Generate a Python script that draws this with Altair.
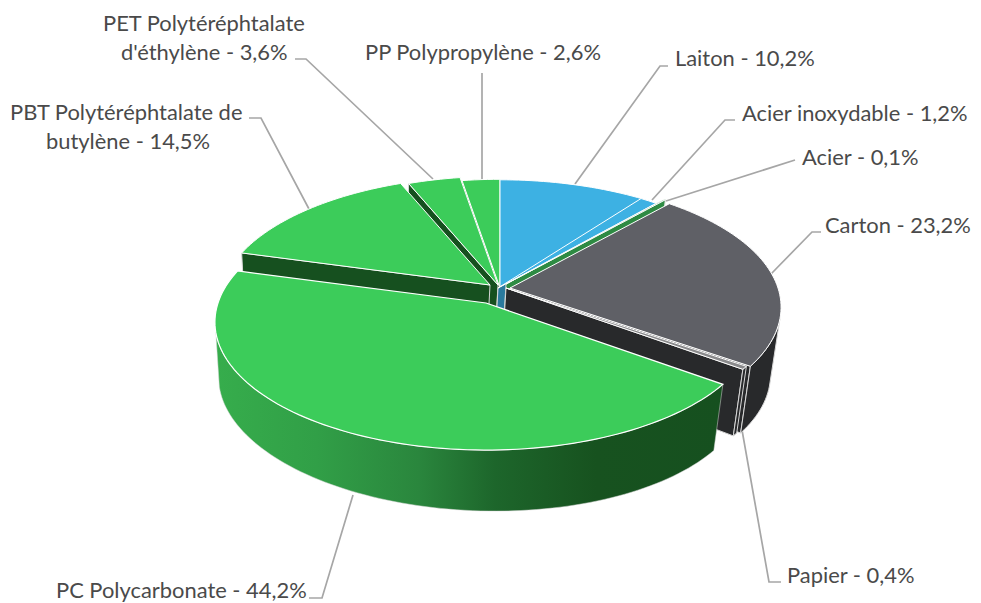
import math
import altair as alt

# values
names = ["Laiton", "Acier inoxydable", "Acier", "Carton", "Papier", "PC", "PBT", "PET", "PP"]
values = [10.2, 1.2, 0.1, 23.2, 0.4, 44.2, 14.5, 3.6, 2.6]
top_colors = ["#3db1e3", "#3db1e3", "#2e8b43", "#5f6066", "#8a8a8c", "#3ccc5a", "#3ccc5a", "#3ccc5a", "#3ccc5a"]
wall_colors = ["#2a7a9e", "#2a7a9e", "#2e8b43", "#28292b", "#28292b", "#16501f", "#16501f", "#16501f", "#16501f"]
paint_order = ["PP", "PET", "Laiton", "Acier inoxydable", "Acier", "PBT", "Carton", "Papier", "PC"]

# where each exploded slice's tip sits
apex_x = [500, 498, 506, 510, 506, 486, 490, 498, 500]
apex_y = [288.5, 288, 284, 288, 288, 303, 285, 285, 288]

label_texts = ["PET Polytéréphtalate", "d'éthylène - 3,6%", "PBT Polytéréphtalate de", "butylène - 14,5%",
               "PP Polypropylène - 2,6%", "Laiton - 10,2%", "Acier inoxydable - 1,2%", "Acier - 0,1%",
               "Carton - 23,2%", "Papier - 0,4%", "PC Polycarbonate - 44,2%"]
label_x = [103, 121, 10, 46, 365, 675, 742, 802, 825, 787, 56]
label_y = [24, 53, 113, 142, 53, 59, 114, 158, 226, 576, 591]

leaders = [
    [(668, 66), (660, 66), (575, 184)],
    [(735, 120), (725, 120), (652, 200)],
    [(795, 160), (666, 201)],
    [(821, 232), (812, 232), (771, 274)],
    [(781, 582), (769, 582), (742, 430)],
    [(309, 598), (322, 598), (353, 495)],
    [(249, 118), (261, 118), (309, 209)],
    [(295, 59), (306, 59), (433, 179)],
    [(482, 73), (482, 180)],
]

# 3D pie geometry parameters
R, A, K = 268, 125, 0.15
SHRINK, SHRINK_CX = 0.975, 360
DEPTH, DEPTH_SLOPE, DEPTH_CX = 61, 0.022, 490
SILHOUETTE = -0.22
W, H = 965, 594
M = 8


def to_chart(p):
    return [p[0] - M, p[1] - M]


def rim(apex, deg):
    t = math.radians(deg)
    x, y = math.sin(t), math.cos(t)
    d = 1 + K * y
    return (apex[0] + R * x / d, apex[1] - A * y / d)


def drop(p):
    return (SHRINK_CX + SHRINK * (p[0] - SHRINK_CX), p[1] + DEPTH + DEPTH_SLOPE * (p[0] - DEPTH_CX))


def feat(points, fill, stroke="#ffffff"):
    ring = [to_chart(p) for p in points]
    ring.append(ring[0])
    return {"type": "Feature", "properties": {"fill": fill, "stroke": stroke},
            "geometry": {"type": "Polygon", "coordinates": [ring]}}


WALL_STROKE = "#d8d8d8"
slices = {}
cum = 0.0
for n, v, tc, wc, ax, ay in zip(names, values, top_colors, wall_colors, apex_x, apex_y):
    a0, a1 = cum * 3.6, (cum + v) * 3.6
    cum += v
    steps = max(2, int((a1 - a0) / 1.5))
    angles = [a0 + (a1 - a0) * i / steps for i in range(steps + 1)]
    slices[n] = dict(apex=(ax, ay), a0=a0, a1=a1, angles=angles, top=tc, wall=wc)

back, pc_wall, front = [], [], []
for n in paint_order:
    s = slices[n]
    apex = s["apex"]
    arc = [rim(apex, d) for d in s["angles"]]
    near = [rim(apex, d) for d in s["angles"] if math.cos(math.radians(d)) < SILHOUETTE]
    top = feat([apex] + arc, s["top"])
    wall = near + [drop(p) for p in reversed(near)]
    if n == "PC":
        pc_wall.append(feat(wall, s["wall"]))
        front.append(top)
        continue
    if math.sin(math.radians(s["a0"])) < 0:
        back.append(feat([apex, arc[0], drop(arc[0]), drop(apex)], s["wall"], WALL_STROKE))
    if math.sin(math.radians(s["a1"])) > 0:
        back.append(feat([apex, arc[-1], drop(arc[-1]), drop(apex)], s["wall"], WALL_STROKE))
    if len(near) >= 2:
        back.append(feat(wall, s["wall"], WALL_STROKE))
    back.append(top)

proj = alt.Projection(type="identity", scale=1, translate=[0, 0])


def shapes(features, width):
    return alt.Chart(alt.Data(values=features)).mark_geoshape(strokeWidth=width).encode(
        fill=alt.Fill("properties.fill:N", scale=None),
        stroke=alt.Stroke("properties.stroke:N", scale=None),
    ).project(**proj.to_dict())


back_layer = shapes(back, 1)
front_layer = shapes(front, 1.2)

gradient = alt.Gradient(
    gradient="linear", x1=0, x2=1, y1=0, y2=0,
    stops=[
        alt.GradientStop(color="#36ad4c", offset=0),
        alt.GradientStop(color="#319f47", offset=0.2),
        alt.GradientStop(color="#2a863d", offset=0.4),
        alt.GradientStop(color="#1d662b", offset=0.55),
        alt.GradientStop(color="#17521f", offset=0.75),
        alt.GradientStop(color="#16501f", offset=1),
    ],
)
pc_wall_layer = alt.Chart(alt.Data(values=pc_wall)).mark_geoshape(
    fill=gradient, stroke="#d8d8d8", strokeWidth=0.5
).project(**proj.to_dict())

leader_features = [
    {"type": "Feature", "properties": {},
     "geometry": {"type": "LineString", "coordinates": [to_chart(p) for p in l]}}
    for l in leaders
]
leader_layer = alt.Chart(alt.Data(values=leader_features)).mark_geoshape(
    filled=False, stroke="#a6a6a6", strokeWidth=1.7
).project(**proj.to_dict())

label_rows = []
for t, x, y in zip(label_texts, label_x, label_y):
    lon, lat = to_chart((x, y))
    label_rows.append({"t": t, "lon": lon, "lat": lat})
text_layer = alt.Chart(alt.Data(values=label_rows)).mark_text(
    align="left", baseline="middle", font="Lato", fontSize=21.9, color="#4a4a4a"
).encode(longitude="lon:Q", latitude="lat:Q", text="t:N").project(**proj.to_dict())

chart = alt.layer(leader_layer, back_layer, pc_wall_layer, front_layer, text_layer).properties(
    width=W, height=H, padding=0
).configure_view(stroke=None)

chart.save("out.html", embed_options={"renderer": "svg", "actions": False})
